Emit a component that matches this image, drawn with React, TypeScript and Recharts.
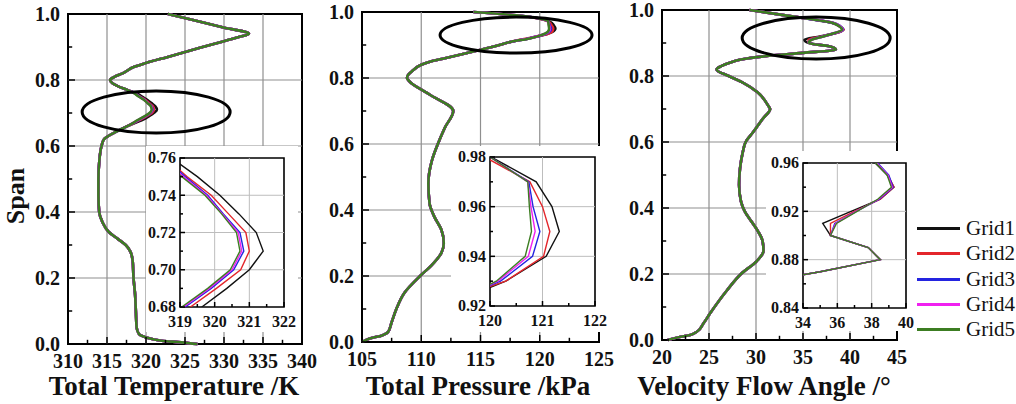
import React from 'react';
import {
  LineChart, Line, XAxis, YAxis, ReferenceLine, ReferenceArea, ReferenceDot, Label
} from 'recharts';

const FONT = "'Liberation Serif', 'Times New Roman', Times, serif";

const gridNames = ['Grid1', 'Grid2', 'Grid3', 'Grid4', 'Grid5'];
const gridColors = ['#111111', '#e3262b', '#2424e0', '#f020f0', '#3c7d22'];
const gridKeys = ['g1', 'g2', 'g3', 'g4', 'g5'];

// Total temperature (K): shared profile below/above the zoomed window, per-grid values inside it
const tempSpanLow = [0, 0.005, 0.01, 0.02, 0.03, 0.05, 0.1, 0.15, 0.2, 0.25, 0.28, 0.3, 0.32, 0.34, 0.37, 0.4, 0.45, 0.5, 0.55, 0.6, 0.62, 0.64, 0.66];
const tempLow = [326.6, 324.5, 322.0, 320.0, 319.1, 318.8, 318.7, 318.6, 318.4, 318.3, 318.0, 317.4, 316.3, 315.2, 314.4, 314.0, 313.9, 313.9, 314.0, 314.3, 314.6, 315.9, 317.6];
const tempSpanWin = [0.68, 0.69, 0.7, 0.71, 0.72, 0.73, 0.74, 0.75, 0.76];
const tempGrid1 = [319.63, 320.35, 321.0, 321.4, 321.2, 320.7, 320.15, 319.5, 318.75];
const tempGrid2 = [319.3, 320.05, 320.75, 321.0, 320.9, 320.4, 319.9, 319.2, 318.6];
const tempGrid3 = [319.15, 319.9, 320.55, 320.84, 320.73, 320.25, 319.8, 319.15, 318.55];
const tempGrid4 = [319.1, 319.85, 320.5, 320.78, 320.68, 320.22, 319.76, 319.1, 318.5];
const tempGrid5 = [319.05, 319.8, 320.45, 320.73, 320.63, 320.2, 319.72, 319.05, 318.45];
const tempSpanHigh = [0.77, 0.78, 0.79, 0.8, 0.81, 0.82, 0.84, 0.85, 0.87, 0.89, 0.91, 0.93, 0.94, 0.96, 0.98, 1.0];
const tempHigh = [317.6, 316.5, 315.7, 315.4, 316.0, 317.0, 318.5, 319.8, 322.8, 325.8, 328.8, 331.9, 333.2, 329.8, 326.3, 322.8];

// Total pressure (kPa)
const presSpanLow = [0, 0.01, 0.02, 0.03, 0.06, 0.1, 0.15, 0.2, 0.23, 0.27, 0.3, 0.34, 0.38, 0.42, 0.48, 0.55, 0.6, 0.65, 0.7, 0.75, 0.79, 0.8, 0.81, 0.82, 0.84, 0.85, 0.86, 0.88, 0.9, 0.91];
const presLow = [105.0, 105.6, 106.7, 107.2, 107.5, 107.9, 108.6, 109.9, 110.8, 111.7, 111.9, 111.7, 111.1, 110.7, 110.6, 110.9, 111.4, 112.0, 112.7, 110.7, 109.0, 108.8, 108.9, 109.2, 110.0, 110.8, 112.0, 114.4, 116.6, 117.6];
const presSpanWin = [0.92, 0.93, 0.94, 0.95, 0.96, 0.97, 0.98];
const presGrid1 = [119.1, 120.3, 121.07, 121.32, 121.18, 120.88, 120.02];
const presGrid2 = [118.9, 120.3, 121.02, 121.14, 121.0, 120.76, 119.9];
const presGrid3 = [119.05, 120.2, 120.81, 120.95, 120.82, 120.74, 120.0];
const presGrid4 = [119.1, 120.15, 120.73, 120.86, 120.78, 120.72, 120.0];
const presGrid5 = [119.15, 120.12, 120.67, 120.79, 120.75, 120.72, 120.0];
const presSpanHigh = [0.99, 1.0];
const presHigh = [118.0, 114.4];

// Velocity flow angle (deg)
const angSpanLow = [0, 0.01, 0.015, 0.025, 0.05, 0.08, 0.15, 0.2, 0.24, 0.27, 0.3, 0.33, 0.36, 0.39, 0.42, 0.47, 0.52, 0.57, 0.6, 0.63, 0.67, 0.7, 0.71, 0.75, 0.78, 0.8, 0.82, 0.83, 0.84, 0.85, 0.86, 0.87];
const angLow = [20.6, 22.0, 23.0, 23.7, 24.4, 25.1, 26.9, 28.4, 30.1, 30.8, 30.7, 30.2, 29.5, 28.8, 28.4, 28.2, 28.3, 28.6, 28.9, 29.7, 30.7, 31.5, 31.3, 30.2, 28.6, 27.1, 25.8, 26.3, 27.2, 28.4, 31.0, 35.0];
const angSpanWin = [0.88, 0.89, 0.9, 0.91, 0.92, 0.93, 0.94, 0.95, 0.96];
const angGrid1 = [38.5, 37.8, 35.6, 35.15, 36.8, 38.5, 39.3, 38.9, 38.2];
const angGrid2 = [38.5, 37.8, 35.6, 35.6, 37.0, 38.5, 39.3, 38.95, 38.3];
const angGrid3 = [38.5, 37.8, 35.6, 35.85, 37.1, 38.45, 39.25, 39.0, 38.35];
const angGrid4 = [38.5, 37.8, 35.6, 35.9, 37.1, 38.4, 39.2, 38.95, 38.3];
const angGrid5 = [38.5, 37.8, 35.6, 35.95, 37.15, 38.35, 39.15, 38.9, 38.25];
const angSpanHigh = [0.98, 1.0];
const angHigh = [34.0, 29.3];

// tick values
const spanMajor = [0, 0.2, 0.4, 0.6, 0.8, 1.0];
const spanMinor = [0.1, 0.3, 0.5, 0.7, 0.9];
const spanGrid = [0.2, 0.4, 0.6, 0.8];
const tempMajor = [310, 315, 320, 325, 330, 335, 340];
const tempMinor = [312.5, 317.5, 322.5, 327.5, 332.5, 337.5];
const presMajor = [105, 110, 115, 120, 125];
const presMinor = [107.5, 112.5, 117.5, 122.5];
const angMajor = [20, 25, 30, 35, 40, 45];
const angMinor = [22.5, 27.5, 32.5, 37.5, 42.5];

type Row = { [k: string]: number };

function buildRows(
  spanLow: number[], low: number[],
  spanWin: number[], grids: number[][],
  spanHigh: number[], high: number[]
): Row[] {
  const rows: Row[] = [];
  const shared = (s: number, v: number) => {
    const r: Row = { span: s };
    gridKeys.forEach((k) => (r[k] = v));
    rows.push(r);
  };
  spanLow.forEach((s, i) => shared(s, low[i]));
  spanWin.forEach((s, i) => {
    const r: Row = { span: s };
    gridKeys.forEach((k, g) => (r[k] = grids[g][i]));
    rows.push(r);
  });
  spanHigh.forEach((s, i) => shared(s, high[i]));
  return rows;
}

const tempRows = buildRows(tempSpanLow, tempLow, tempSpanWin,
  [tempGrid1, tempGrid2, tempGrid3, tempGrid4, tempGrid5], tempSpanHigh, tempHigh);
const presRows = buildRows(presSpanLow, presLow, presSpanWin,
  [presGrid1, presGrid2, presGrid3, presGrid4, presGrid5], presSpanHigh, presHigh);
const angRows = buildRows(angSpanLow, angLow, angSpanWin,
  [angGrid1, angGrid2, angGrid3, angGrid4, angGrid5], angSpanHigh, angHigh);

type Scale = { domain: [number, number]; major: number[]; minor: number[]; grid: number[]; digits: number };
type Box = { left: number; top: number; width: number; height: number; plotLeft: number; plotRight: number; plotTop: number; plotBottom: number };
type TickStyle = { len: number; size: number; off: number };

const Y_W = 50;
const X_H = 40;
const IN_Y_W = 30;
const IN_X_H = 20;

const allTicks = (s: Scale) => [...s.major, ...s.minor].sort((a, b) => a - b);
const isMajor = (s: Scale, v: number) => s.major.some((m) => Math.abs(m - v) < 1e-6);

const BoldText = (props: any) => {
  const { size, children, ...rest } = props;
  return (
    <text {...rest} fill="#111" style={{ fontFamily: FONT, fontWeight: 'bold', fontSize: size }}>
      {children}
    </text>
  );
};

const bottomTick = (s: Scale, t: TickStyle) => (p: any) => {
  const v = p.payload.value;
  const major = isMajor(s, v);
  return (
    <g>
      <line x1={p.x} x2={p.x} y1={p.y} y2={p.y - (major ? t.len : t.len * 0.6)} stroke="#000" strokeWidth={1.5} />
      {major && (
        <BoldText x={p.x} y={p.y + t.off} textAnchor="middle" size={t.size}>
          {v.toFixed(s.digits)}
        </BoldText>
      )}
    </g>
  );
};

const leftTick = (s: Scale, t: TickStyle) => (p: any) => {
  const v = p.payload.value;
  const major = isMajor(s, v);
  return (
    <g>
      <line x1={p.x} x2={p.x + (major ? t.len : t.len * 0.6)} y1={p.y} y2={p.y} stroke="#000" strokeWidth={1.5} />
      {major && (
        <BoldText x={p.x - t.off} y={p.y + t.size * 0.34} textAnchor="end" size={t.size}>
          {v.toFixed(s.digits)}
        </BoldText>
      )}
    </g>
  );
};

const marginOf = (b: Box, yw: number, xh: number) => ({
  top: b.plotTop - b.top,
  left: b.plotLeft - b.left - yw,
  right: b.width - (b.plotRight - b.left),
  bottom: b.height - (b.plotBottom - b.top) - xh,
});

type Ring = { x: number; y: number; rx: number; ry: number };

type MainProps = {
  rows: Row[]; box: Box; xs: Scale; ys: Scale;
  title: string; titleX: number; ring: Ring; spanLabel?: boolean;
};

function MainPanel({ rows, box, xs, ys, title, titleX, ring, spanLabel }: MainProps) {
  return (
    <div style={{ position: 'absolute', left: box.left, top: box.top }}>
      <LineChart layout="vertical" width={box.width} height={box.height} data={rows} margin={marginOf(box, Y_W, X_H)}
        style={{ overflow: 'visible' }}>
        <XAxis type="number" domain={xs.domain} ticks={allTicks(xs)} interval={0} tickSize={0} tickMargin={0}
          axisLine={false} height={X_H} tick={bottomTick(xs, { len: 7, size: 20, off: 24 })}>
          <Label content={() => (
            <BoldText x={titleX - box.left} y={395} textAnchor="middle" size={27}>
              {title}
            </BoldText>
          )} />
        </XAxis>
        <YAxis type="number" dataKey="span" reversed domain={ys.domain} ticks={allTicks(ys)} interval={0} tickSize={0} tickMargin={0}
          axisLine={false} width={Y_W} tick={leftTick(ys, { len: 7, size: 20, off: 8 })}>
          {spanLabel && (
            <Label content={() => (
              <BoldText x={24} y={196} transform="rotate(-90 24 196)" textAnchor="middle" size={26}>
                Span
              </BoldText>
            )} />
          )}
        </YAxis>
        {xs.grid.map((v) => <ReferenceLine key={'gx' + v} x={v} stroke="#8f8f8f" strokeWidth={1.2} />)}
        {ys.grid.map((v) => <ReferenceLine key={'gy' + v} y={v} stroke="#8f8f8f" strokeWidth={1.2} />)}
        <ReferenceArea x1={xs.domain[0]} x2={xs.domain[1]} y1={ys.domain[0]} y2={ys.domain[1]} fill="none" stroke="#000" strokeWidth={2} />
        {gridKeys.map((k, i) => (
          <Line key={k} dataKey={k} name={gridNames[i]} stroke={gridColors[i]} strokeWidth={2.6}
            dot={false} type="monotone" isAnimationActive={false} />
        ))}
        <ReferenceDot x={ring.x} y={ring.y} r={1}
          shape={(p: any) => <ellipse cx={p.cx} cy={p.cy} rx={ring.rx} ry={ring.ry} fill="none" stroke="#000" strokeWidth={3} />} />
      </LineChart>
    </div>
  );
}

function InsetPanel({ rows, box, xs, ys }: { rows: Row[]; box: Box; xs: Scale; ys: Scale }) {
  return (
    <div style={{ position: 'absolute', left: box.left, top: box.top, background: '#fff' }}>
      <LineChart layout="vertical" width={box.width} height={box.height} data={rows} margin={marginOf(box, IN_Y_W, IN_X_H)}>
        <XAxis type="number" domain={xs.domain} ticks={allTicks(xs)} interval={0} tickSize={0} tickMargin={0}
          axisLine={false} height={IN_X_H} allowDataOverflow tick={bottomTick(xs, { len: 5, size: 16, off: 20 })} />
        <YAxis type="number" dataKey="span" reversed domain={ys.domain} ticks={allTicks(ys)} interval={0} tickSize={0} tickMargin={0}
          axisLine={false} width={IN_Y_W} allowDataOverflow tick={leftTick(ys, { len: 5, size: 16, off: 4 })} />
        {xs.grid.map((v) => <ReferenceLine key={'gx' + v} x={v} stroke="#bdbdbd" strokeWidth={1} />)}
        {ys.grid.map((v) => <ReferenceLine key={'gy' + v} y={v} stroke="#bdbdbd" strokeWidth={1} />)}
        {gridKeys.map((k, i) => (
          <Line key={k} dataKey={k} name={gridNames[i]} stroke={gridColors[i]} strokeWidth={1.4}
            dot={false} type="linear" isAnimationActive={false} />
        ))}
        <ReferenceArea x1={xs.domain[0]} x2={xs.domain[1]} y1={ys.domain[0]} y2={ys.domain[1]} fill="none" stroke="#000" strokeWidth={1.6} />
      </LineChart>
    </div>
  );
}

function GridLegend() {
  return (
    <div style={{ position: 'absolute', left: 917, top: 216 }}>
      {gridNames.map((n, i) => (
        <div key={n} style={{ display: 'flex', alignItems: 'center', height: 25.3 }}>
          <div style={{ width: 43, height: 3, background: gridColors[i] }} />
          <span style={{ marginLeft: 6, fontFamily: FONT, fontSize: 21, color: '#111', lineHeight: '25px' }}>{n}</span>
        </div>
      ))}
    </div>
  );
}

const spanScale: Scale = { domain: [0, 1], major: spanMajor, minor: spanMinor, grid: spanGrid, digits: 1 };

export default function App() {
  return (
    <div style={{ position: 'absolute', left: 0, top: 0, width: 1016, height: 404, background: '#fff', overflow: 'hidden' }}>
      <MainPanel rows={tempRows} spanLabel title="Total Temperature /K" titleX={174}
        box={{ left: 0, top: 0, width: 330, height: 404, plotLeft: 68, plotRight: 302, plotTop: 14, plotBottom: 344 }}
        xs={{ domain: [310, 340], major: tempMajor, minor: tempMinor, grid: [315, 320, 325, 330, 335], digits: 0 }}
        ys={spanScale} ring={{ x: 321.3, y: 0.703, rx: 74, ry: 21 }} />
      <MainPanel rows={presRows} title="Total Pressure /kPa" titleX={478}
        box={{ left: 305, top: 0, width: 315, height: 404, plotLeft: 362, plotRight: 599, plotTop: 12, plotBottom: 342 }}
        xs={{ domain: [105, 125], major: presMajor, minor: presMinor, grid: [110, 115, 120], digits: 0 }}
        ys={spanScale} ring={{ x: 118.0, y: 0.93, rx: 76, ry: 18 }} />
      <MainPanel rows={angRows} title="Velocity Flow Angle /°" titleX={764}
        box={{ left: 605, top: 0, width: 310, height: 404, plotLeft: 662, plotRight: 897, plotTop: 10, plotBottom: 340 }}
        xs={{ domain: [20, 45], major: angMajor, minor: angMinor, grid: [25, 30, 35, 40], digits: 0 }}
        ys={spanScale} ring={{ x: 36.4, y: 0.915, rx: 74, ry: 21 }} />

      <InsetPanel rows={tempRows}
        box={{ left: 146, top: 146, width: 152, height: 186, plotLeft: 180, plotRight: 284, plotTop: 158, plotBottom: 307 }}
        xs={{ domain: [319, 322], major: [319, 320, 321, 322], minor: [319.5, 320.5, 321.5], grid: [320, 321], digits: 0 }}
        ys={{ domain: [0.68, 0.76], major: [0.68, 0.7, 0.72, 0.74, 0.76], minor: [0.69, 0.71, 0.73, 0.75], grid: [0.7, 0.72, 0.74], digits: 2 }} />
      <InsetPanel rows={presRows}
        box={{ left: 451, top: 146, width: 162, height: 186, plotLeft: 490, plotRight: 595, plotTop: 157, plotBottom: 306 }}
        xs={{ domain: [120, 122], major: [120, 121, 122], minor: [120.5, 121.5], grid: [121], digits: 0 }}
        ys={{ domain: [0.92, 0.98], major: [0.92, 0.94, 0.96, 0.98], minor: [0.93, 0.95, 0.97], grid: [0.94, 0.96], digits: 2 }} />
      <InsetPanel rows={angRows}
        box={{ left: 766, top: 151, width: 152, height: 180, plotLeft: 803, plotRight: 906, plotTop: 163, plotBottom: 308 }}
        xs={{ domain: [34, 40], major: [34, 36, 38, 40], minor: [35, 37, 39], grid: [36, 38], digits: 0 }}
        ys={{ domain: [0.84, 0.96], major: [0.84, 0.88, 0.92, 0.96], minor: [0.86, 0.9, 0.94], grid: [0.88, 0.92], digits: 2 }} />

      <GridLegend />
    </div>
  );
}
